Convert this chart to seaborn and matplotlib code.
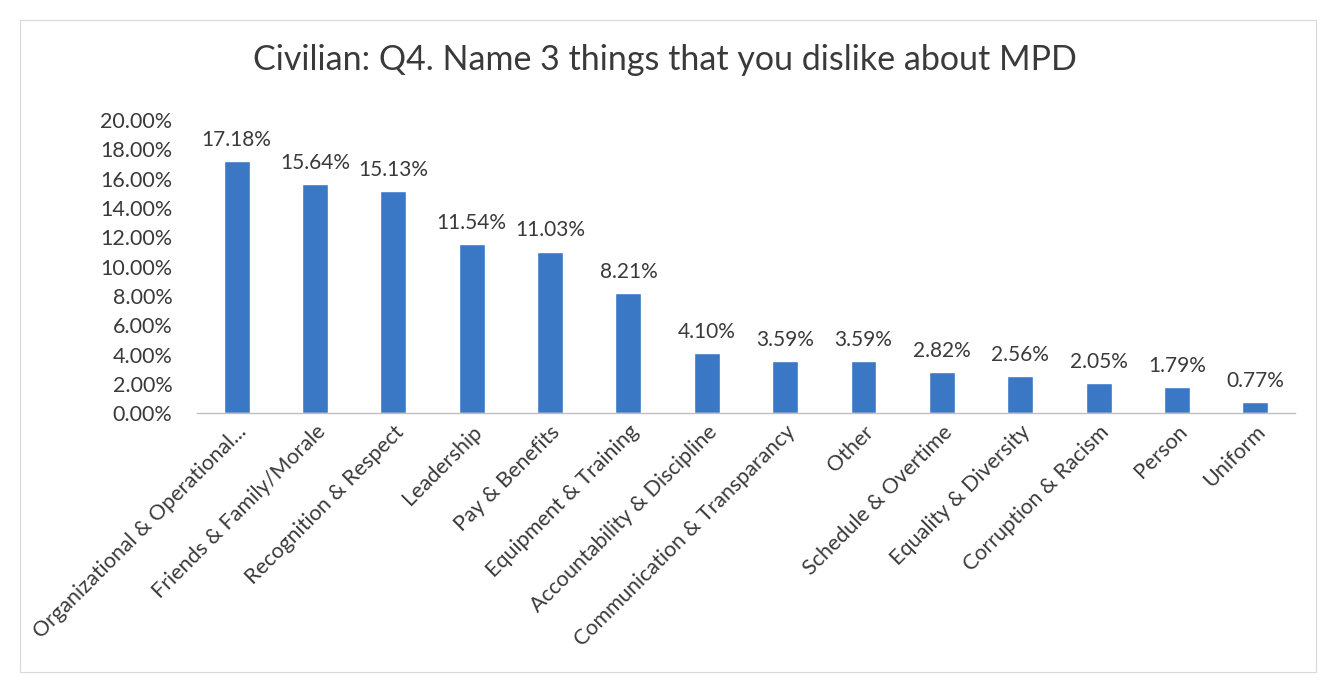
import matplotlib
matplotlib.use("Agg")
import matplotlib.pyplot as plt
from matplotlib.patches import Rectangle
from matplotlib.ticker import PercentFormatter
import seaborn as sns
import pandas as pd

categories = [
    "Organizational & Operational...",
    "Friends & Family/Morale",
    "Recognition & Respect",
    "Leadership",
    "Pay & Benefits",
    "Equipment & Training",
    "Accountability & Discipline",
    "Communication & Transparancy",
    "Other",
    "Schedule & Overtime",
    "Equality & Diversity",
    "Corruption & Racism",
    "Person",
    "Uniform",
]
shares = [17.18, 15.64, 15.13, 11.54, 11.03, 8.21, 4.10, 3.59, 3.59, 2.82, 2.56, 2.05, 1.79, 0.77]
y_ticks = [0, 2, 4, 6, 8, 10, 12, 14, 16, 18, 20]
title = "Civilian: Q4. Name 3 things that you dislike about MPD"

df = pd.DataFrame({"category": categories, "share": shares})

sns.set_theme(style="white")
plt.rcParams["font.family"] = ["Lato", "DejaVu Sans"]

text_color = "#3A3A3A"
bar_color = "#3A78C6"

fig = plt.figure(figsize=(13.25, 6.82), dpi=100)
ax = fig.add_axes([0.149, 0.394, 0.828, 0.430])

sns.barplot(data=df, x="category", y="share", color=bar_color, width=0.33,
            saturation=1, ax=ax)

ax.set_ylim(0, 20)
ax.set_xlim(-0.5, len(categories) - 0.5)
ax.set_yticks(y_ticks)
ax.yaxis.set_major_formatter(PercentFormatter(decimals=2))
ax.set_xlabel("")
ax.set_ylabel("")

for i, v in enumerate(shares):
    ax.annotate(f"{v:.2f}%", (i, v), xytext=(0, 8), textcoords="offset points",
                ha="center", va="bottom", fontsize=15, color=text_color)

ax.tick_params(axis="y", labelsize=15.5, colors=text_color, length=0, pad=18)
ax.tick_params(axis="x", labelsize=15.5, colors=text_color, length=0, pad=6)
plt.setp(ax.get_xticklabels(), rotation=45, ha="right", rotation_mode="anchor")

for side in ["top", "right", "left"]:
    ax.spines[side].set_visible(False)
ax.spines["bottom"].set_color("#BFBFBF")
ax.spines["bottom"].set_linewidth(1.0)

fig.text(0.502, 0.912, title, ha="center", va="center", fontsize=24.5, color=text_color)

fig.patches.append(Rectangle((0.015, 0.015), 0.978, 0.955, transform=fig.transFigure,
                             fill=False, edgecolor="#D9D9D9", linewidth=0.8))

fig.savefig("out.png", dpi=100, facecolor="white")
